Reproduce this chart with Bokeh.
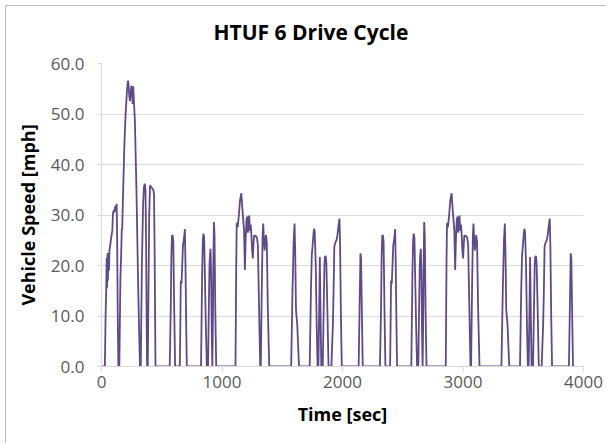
from bokeh.plotting import figure
from bokeh.models import ColumnDataSource, FixedTicker, NumeralTickFormatter, Range1d, Title
from bokeh.embed import file_html
from bokeh.resources import INLINE

# ---- data ----
time_sec = [
    0, 28, 34, 39, 43, 46, 50, 53, 57, 62, 66, 72, 76, 82, 90, 95, 102, 108, 114, 120,
    126, 130, 135, 140, 148, 153, 157, 163, 168, 172, 180, 190, 200, 210, 216, 221, 226, 231, 236, 242,
    248, 253, 258, 263, 268, 277, 290, 305, 319, 326, 335, 345, 352, 359, 365, 370, 375, 378, 384, 390,
    396, 403, 410, 420, 430, 436, 440, 448,
    566, 575, 580, 585, 590, 596, 603, 611, 650, 655, 658, 664, 670, 676, 683, 692, 697, 703, 708,
    826, 835, 841, 846, 852, 858, 866, 874, 884, 891, 896, 900, 905, 910, 916, 920, 924, 928, 933, 938, 944, 952,
    1112, 1118, 1122, 1126, 1130, 1140, 1150, 1160, 1166, 1172, 1178, 1183, 1190, 1196, 1203, 1210, 1215, 1221,
    1226, 1232, 1238, 1244, 1250, 1256, 1261, 1266, 1272, 1280, 1290, 1298, 1305, 1317, 1322, 1330, 1337, 1342,
    1348, 1354, 1360, 1365, 1372, 1380, 1392,
    1574, 1585, 1595, 1602, 1608, 1614, 1624, 1632, 1639,
    1728, 1738, 1745, 1752, 1760, 1765, 1770, 1778, 1786, 1793, 1800, 1807, 1812, 1818, 1824,
    1836, 1843, 1850, 1854, 1860, 1866, 1874, 1884,
    1908, 1915, 1920, 1926, 1932, 1940, 1950, 1958, 1965, 1975, 1980, 1987, 1994,
    2134, 2142, 2149, 2154, 2160, 2168,
    2311, 2320, 2325, 2330, 2335, 2341, 2348, 2356, 2395, 2400, 2403, 2409, 2415, 2421, 2428, 2437, 2442, 2448, 2453,
    2571, 2580, 2586, 2591, 2597, 2603, 2611, 2619, 2629, 2636, 2641, 2645, 2650, 2655, 2661, 2665, 2669, 2673, 2678, 2683, 2689, 2697,
    2857, 2863, 2867, 2871, 2875, 2885, 2895, 2905, 2911, 2917, 2923, 2928, 2935, 2941, 2948, 2955, 2960, 2966,
    2971, 2977, 2983, 2989, 2995, 3001, 3006, 3011, 3017, 3025, 3035, 3043, 3050, 3062, 3067, 3075, 3082, 3087,
    3093, 3099, 3105, 3110, 3117, 3125, 3137,
    3319, 3330, 3340, 3347, 3353, 3359, 3369, 3377, 3384,
    3473, 3483, 3490, 3497, 3505, 3510, 3515, 3523, 3531, 3538, 3545, 3552, 3557, 3563, 3569,
    3581, 3588, 3595, 3599, 3605, 3611, 3619, 3629,
    3653, 3660, 3665, 3671, 3677, 3685, 3695, 3703, 3710, 3720, 3725, 3732, 3739,
    3879, 3887, 3894, 3899, 3905, 3913,
]
speed_mph = [
    0, 0, 10, 15.1, 21.5, 15.5, 22.4, 17, 22.5, 19, 23, 24, 24.7, 25.7, 27, 30.3, 31, 30.5, 31.8, 30.8,
    32.2, 25, 10, 0, 0, 10, 17.4, 22, 27, 27.5, 35, 44, 50, 54, 56, 56.6, 55.3, 53.5, 52.6, 54,
    55.6, 55, 52, 55.5, 53, 48.7, 35, 15, 0, 0, 20, 32, 35.5, 36.2, 35, 25, 8, 0, 0, 15,
    30, 35.9, 35.6, 35.3, 35, 34, 25, 0,
    0, 12, 22, 25.9, 26, 24.8, 12, 0, 0, 10, 17, 16.4, 20, 24, 25, 27.2, 20, 8, 0,
    0, 18, 25, 26.3, 25.5, 18, 8, 0, 0, 12, 20, 22, 23.3, 18, 5, 0, 8, 20, 28.6, 26, 12, 0,
    0, 20, 28.3, 28.3, 27.6, 30, 33, 34.3, 32.3, 30.3, 28.5, 27, 19.1, 25, 29, 29.7, 26.5, 28.5,
    29.9, 26.9, 28.1, 26, 23, 21.4, 24, 26, 25.8, 25.9, 25.5, 24, 15, 0, 0, 15, 26, 28.3,
    25, 23, 25, 26, 24.5, 12, 0,
    0, 15, 25, 28.3, 22, 11.2, 8.5, 4, 0,
    0, 15, 22, 24, 26.5, 27.3, 26.5, 20, 8, 0, 0, 12, 21.7, 10, 0,
    0, 10, 20, 21.7, 21.9, 20.5, 12, 0,
    0, 5, 7.9, 15, 23.7, 24.5, 25, 26, 27.5, 29.3, 24, 10, 0,
    0, 12, 22.4, 21.5, 12, 0,
    0, 12, 22, 25.9, 26, 24.8, 12, 0, 0, 10, 17, 16.4, 20, 24, 25, 27.2, 20, 8, 0,
    0, 18, 25, 26.3, 25.5, 18, 8, 0, 0, 12, 20, 22, 23.3, 18, 5, 0, 8, 20, 28.6, 26, 12, 0,
    0, 20, 28.3, 28.3, 27.6, 30, 33, 34.3, 32.3, 30.3, 28.5, 27, 19.1, 25, 29, 29.7, 26.5, 28.5,
    29.9, 26.9, 28.1, 26, 23, 21.4, 24, 26, 25.8, 25.9, 25.5, 24, 15, 0, 0, 15, 26, 28.3,
    25, 23, 25, 26, 24.5, 12, 0,
    0, 15, 25, 28.3, 22, 11.2, 8.5, 4, 0,
    0, 15, 22, 24, 26.5, 27.3, 26.5, 20, 8, 0, 0, 12, 21.7, 10, 0,
    0, 10, 20, 21.7, 21.9, 20.5, 12, 0,
    0, 5, 7.9, 15, 23.7, 24.5, 25, 26, 27.5, 29.3, 24, 10, 0,
    0, 12, 22.4, 21.5, 12, 0,
]
x_ticks = [0, 1000, 2000, 3000, 4000]
y_ticks = [0, 10, 20, 30, 40, 50, 60]
title_text = "HTUF 6 Drive Cycle"
x_label = "Time [sec]"
y_label = "Vehicle Speed [mph]"

source = ColumnDataSource(dict(t=time_sec, v=speed_mph))

FONT = "Open Sans"

p = figure(
    width=601, height=438,
    output_backend="svg", toolbar_location=None,
    x_range=Range1d(0, 4000), y_range=Range1d(0, 60),
    min_border_left=95, min_border_right=24, min_border_top=57, min_border_bottom=78,
    title=title_text,
)
p.margin = (5, 0, 0, 5)
p.styles = {"border-left": "1px solid #BFBFBF", "border-top": "1px solid #BFBFBF"}

p.line("t", "v", source=source, line_color="#5E4A86", line_width=1.8)

p.title.text_font = FONT
p.title.text_font_size = "21px"
p.title.text_font_style = "bold"
p.title.text_color = "#000000"
p.title.align = "left"
p.title.offset = 112
p.title.standoff = 4

# invisible spacer between the title and the plot frame
p.add_layout(Title(text=" ", text_font_size="12px", standoff=0), "above")

p.outline_line_color = None
p.background_fill_color = "white"
p.border_fill_color = "white"

p.xgrid.grid_line_color = None
p.ygrid.grid_line_color = "#D9D9D9"
p.ygrid.grid_line_width = 1

p.xaxis.ticker = FixedTicker(ticks=x_ticks)
p.yaxis.ticker = FixedTicker(ticks=y_ticks)
p.yaxis.formatter = NumeralTickFormatter(format="0.0")
p.xaxis.formatter = NumeralTickFormatter(format="0")

for ax in (p.xaxis[0], p.yaxis[0]):
    ax.axis_line_color = "#D9D9D9"
    ax.major_tick_line_color = "#D9D9D9"
    ax.minor_tick_line_color = None
    ax.major_tick_in = 0
    ax.major_label_text_font = FONT
    ax.major_label_text_color = "#595959"
    ax.axis_label_text_font = FONT
    ax.axis_label_text_font_style = "bold"
    ax.axis_label_text_color = "#000000"
    ax.axis_label_text_font_size = "18px"

p.xaxis.major_tick_out = 5
p.yaxis.major_tick_out = 4
p.xaxis.major_label_text_font_size = "17px"
p.yaxis.major_label_text_font_size = "17px"
p.xaxis.major_label_standoff = 4
p.yaxis.major_label_standoff = 13
p.xaxis.axis_label = x_label
p.yaxis.axis_label = y_label
p.xaxis.axis_label_standoff = 11
p.yaxis.axis_label_standoff = 8

open("out.html", "w").write(file_html(p, INLINE))
